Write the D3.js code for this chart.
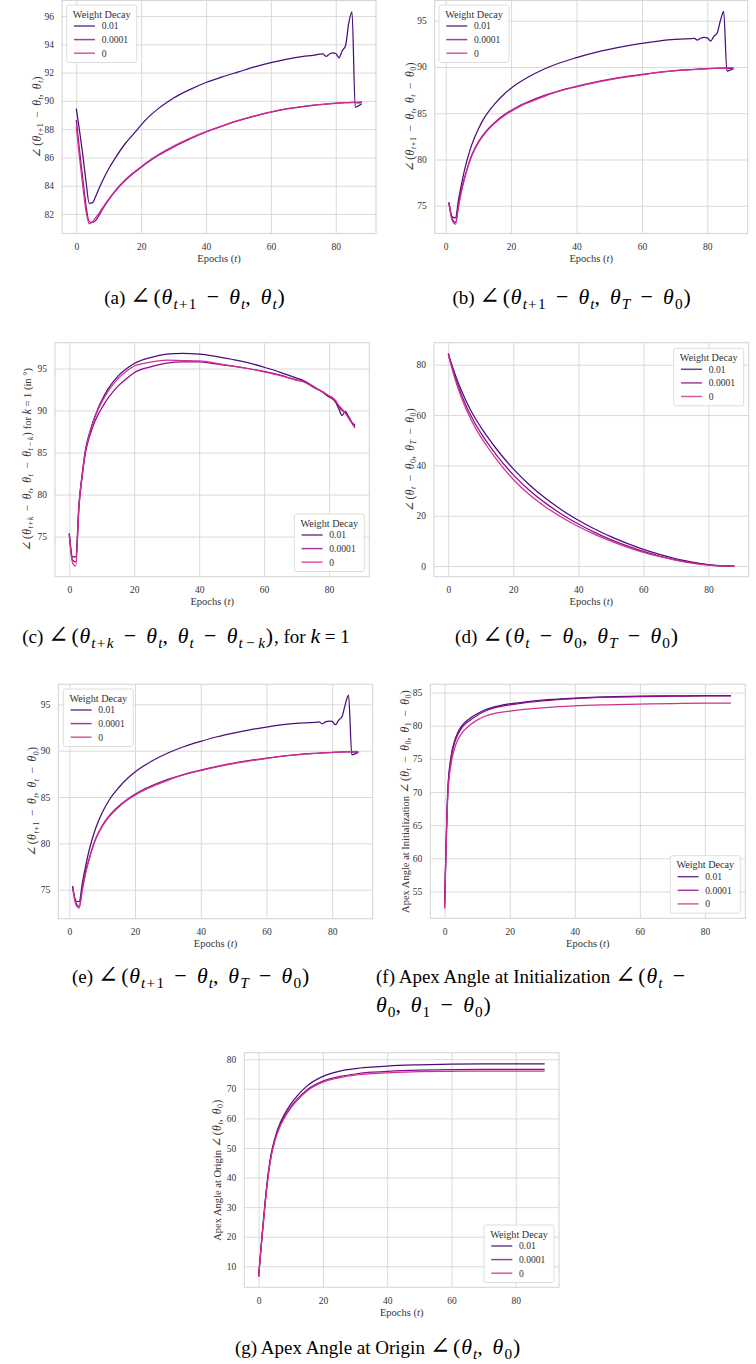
<!DOCTYPE html>
<html><head><meta charset="utf-8">
<script src="https://cdn.jsdelivr.net/npm/d3@7"></script>
<style>body{margin:0;background:#fff}text{white-space:pre}</style>
</head><body>
<script>
// ---------- DATA ----------
const seriesNames = ['0.01', '0.0001', '0'];
const xTickValues = [0, 20, 40, 60, 80];

const epochsA = [0,1,2,3,4,5,6,7,8,10,12,15,18,20,22,25,28,30,35,40,45,50,55,60,65,70,73,75,76,77,78,79,80,81,82,83,84,85,86,87,88];
const a_wd001 = [89.45,87.9,86.2,84.3,82.75,82.8,83.25,83.8,84.3,85.2,85.95,86.95,87.75,88.3,88.8,89.4,89.9,90.2,90.8,91.3,91.7,92.05,92.4,92.7,92.95,93.15,93.22,93.3,93.32,93.15,93.3,93.4,93.35,93.05,93.55,93.9,95.5,96.3,89.55,89.65,89.8];
const a_wd00001 = [88.65,86.5,84.5,82.6,81.45,81.4,81.55,81.9,82.3,83.0,83.6,84.35,84.95,85.3,85.65,86.1,86.5,86.75,87.3,87.8,88.22,88.6,88.92,89.2,89.43,89.6,89.68,89.73,89.75,89.77,89.79,89.81,89.83,89.85,89.86,89.87,89.88,89.9,89.88,89.86,89.9];
const a_wd0 = [88.2,86.0,84.0,82.2,81.3,81.45,81.75,82.05,82.4,83.05,83.65,84.4,85.0,85.35,85.7,86.15,86.55,86.8,87.35,87.82,88.24,88.62,88.94,89.22,89.45,89.62,89.7,89.74,89.76,89.78,89.8,89.82,89.84,89.85,89.86,89.87,89.88,89.87,89.9,89.92,89.95];
const a_yTicks = [82,84,86,88,90,92,94,96];

const epochsB = [1,2,3,4,5,6,7,8,10,12,15,18,20,22,25,30,35,40,45,50,55,60,65,70,73,75,76,77,78,79,80,81,82,83,84,85,86,87,88];
const b_wd001 = [75.4,73.8,73.7,75.8,77.6,79.2,80.5,81.6,83.3,84.6,86.0,87.1,87.7,88.2,88.85,89.75,90.45,91.0,91.5,91.9,92.25,92.55,92.8,92.98,93.02,93.05,93.1,92.9,93.1,93.2,93.15,92.8,93.3,93.65,95.0,96.0,89.55,89.65,89.8];
const b_wd00001 = [75.3,73.6,73.2,75.3,77.0,78.3,79.5,80.5,81.9,82.9,84.0,84.85,85.3,85.7,86.2,86.9,87.45,87.9,88.3,88.65,88.95,89.2,89.42,89.6,89.68,89.72,89.74,89.76,89.78,89.8,89.82,89.84,89.85,89.86,89.87,89.88,89.86,89.84,89.88];
const b_wd0 = [75.2,73.4,73.0,75.0,76.8,78.2,79.4,80.4,81.8,82.8,83.9,84.75,85.2,85.6,86.1,86.8,87.4,87.85,88.25,88.6,88.9,89.15,89.4,89.58,89.66,89.7,89.72,89.74,89.76,89.78,89.8,89.82,89.84,89.85,89.86,89.88,89.9,89.92,89.9];
const b_yTicks = [75,80,85,90,95];

const epochsC = [0,1,2,3,4,5,6,7,8,9,10,12,15,18,20,25,30,35,40,45,50,55,60,65,70,72,75,78,80,81,82,83,84,85,86,87,88];
const c_wd001 = [75.4,72.6,72.6,79.0,82.5,85.4,87.0,88.3,89.4,90.4,91.2,92.6,94.1,95.1,95.6,96.3,96.7,96.8,96.7,96.45,96.1,95.7,95.15,94.55,93.85,93.6,92.9,92.2,91.6,91.4,91.0,90.2,89.4,89.9,89.3,88.6,88.3];
const c_wd00001 = [75.3,72.2,72.0,78.6,82.2,85.0,86.6,87.8,88.8,89.6,90.3,91.5,92.9,93.9,94.5,95.2,95.65,95.8,95.8,95.55,95.3,95.0,94.65,94.2,93.65,93.5,92.8,92.2,91.7,91.5,91.1,90.5,90.0,89.8,89.2,88.6,88.1];
const c_wd0 = [75.2,71.9,71.5,78.8,82.4,85.2,86.9,88.2,89.3,90.2,91.0,92.3,93.8,94.8,95.3,95.75,96.0,95.95,95.9,95.65,95.3,95.0,94.6,94.15,93.6,93.45,92.85,92.25,91.75,91.55,91.2,90.6,90.2,89.7,89.1,88.5,87.9];
const c_yTicks = [75,80,85,90,95];

const epochsD = [0,1,2,3,4,5,6,8,10,12,15,20,25,30,35,40,45,50,55,60,65,70,75,80,84,88];
const d_wd001 = [84.5,80.3,76.5,73.0,69.8,66.9,64.2,59.3,55.2,51.4,46.2,38.6,32.2,26.8,22.2,18.2,14.7,11.7,9.0,6.6,4.6,2.9,1.6,0.6,0.15,0.0];
const d_wd00001 = [84.3,79.6,75.4,71.6,68.2,65.1,62.3,57.2,52.9,49.0,43.8,36.2,30.0,24.9,20.5,16.7,13.4,10.5,8.0,5.8,4.0,2.5,1.3,0.5,0.1,0.0];
const d_wd0 = [84.0,79.0,74.6,70.6,67.0,63.8,60.9,55.7,51.3,47.4,42.1,34.4,28.3,23.4,19.3,15.7,12.6,9.9,7.5,5.4,3.7,2.3,1.2,0.4,0.1,0.0];
const d_yTicks = [0,20,40,60,80];

const epochsE = [1,2,3,4,5,6,7,8,10,12,15,18,20,22,25,30,35,40,45,50,55,60,65,70,73,75,76,77,78,79,80,81,82,83,84,85,86,87,88];
const e_wd001 = [75.4,73.8,73.7,75.8,77.6,79.2,80.5,81.6,83.3,84.6,86.0,87.1,87.7,88.2,88.85,89.75,90.45,91.0,91.5,91.9,92.25,92.55,92.8,92.98,93.02,93.05,93.1,92.9,93.1,93.2,93.15,92.8,93.3,93.65,95.0,96.0,89.55,89.65,89.8];
const e_wd00001 = [75.3,73.6,73.2,75.3,77.0,78.3,79.5,80.5,81.9,82.9,84.0,84.85,85.3,85.7,86.2,86.9,87.45,87.9,88.3,88.65,88.95,89.2,89.42,89.6,89.68,89.72,89.74,89.76,89.78,89.8,89.82,89.84,89.85,89.86,89.87,89.88,89.86,89.84,89.88];
const e_wd0 = [75.2,73.4,73.0,75.0,76.8,78.2,79.4,80.4,81.8,82.8,83.9,84.75,85.2,85.6,86.1,86.8,87.4,87.85,88.25,88.6,88.9,89.15,89.4,89.58,89.66,89.7,89.72,89.74,89.76,89.78,89.8,89.82,89.84,89.85,89.86,89.88,89.9,89.92,89.9];
const e_yTicks = [75,80,85,90,95];

const epochsF = [0,1,2,3,4,5,6,8,10,12,15,20,25,30,40,50,60,70,80,88];
const f_wd001 = [52.6,70.5,75.4,77.6,78.9,79.8,80.4,81.2,81.8,82.3,82.8,83.3,83.6,83.85,84.15,84.35,84.45,84.5,84.55,84.55];
const f_wd00001 = [53.2,70.2,75.1,77.3,78.6,79.5,80.1,80.9,81.55,82.1,82.65,83.15,83.5,83.75,84.1,84.3,84.4,84.45,84.5,84.5];
const f_wd0 = [52.4,69.5,74.3,76.5,77.8,78.7,79.3,80.2,80.85,81.35,81.8,82.2,82.5,82.7,83.0,83.15,83.25,83.35,83.4,83.4];
const f_yTicks = [55,60,65,70,75,80,85];

const epochsG = [0,1,2,3,4,5,6,8,10,12,15,20,25,30,35,40,50,60,70,80,89];
const g_wd001 = [6.5,19.5,31.5,41.5,48.5,53.0,56.5,61.3,64.8,67.6,70.9,74.2,75.9,76.8,77.3,77.7,78.1,78.3,78.4,78.4,78.45];
const g_wd00001 = [6.5,19.3,31.2,41.0,48.0,52.5,55.9,60.5,63.9,66.5,69.6,72.6,74.1,75.0,75.6,75.9,76.3,76.5,76.6,76.6,76.6];
const g_wd0 = [6.4,19.0,30.8,40.6,47.6,52.1,55.5,60.1,63.5,66.1,69.2,72.2,73.7,74.6,75.1,75.4,75.8,75.9,76.0,76.0,76.0];
const g_yTicks = [10,20,30,40,50,60,70,80];

// ---------- STYLE / LAYOUT ----------
const colors = ['#4a0e77', '#8e0a8f', '#d2308f'];
const gridColor = '#d6d6d6';
const textColor = '#333';
const tickFont = 'Liberation Serif, DejaVu Serif, serif';
const capFont = 'Liberation Serif, Times New Roman, serif';
// extra space (in em of the math font) before / after math symbols, LaTeX-like
const mathPads = {'−': [0.22, 0.22], '+': [0.08, 0.08], ',': [0, 0.2], '∠': [0, 0.08], '(': [0.04, 0.04], ')': [0.04, 0.04], '=': [0.15, 0.15], 'θ': [0, 0.05]};

const svg = d3.select('body').append('svg').attr('width', 756).attr('height', 1364)
  .style('background', '#fff');

function rich(sel, str, fs, mScale) {
  const segs = [];
  str.split('$').forEach((p, i) => {
    if (i % 2 === 0) { if (p) segs.push({t: p, it: false, sub: false, m: false}); return; }
    let j = 0;
    while (j < p.length) {
      const c = p[j];
      if (c === '_') {
        let grp;
        if (p[j + 1] === '{') { const k = p.indexOf('}', j); grp = p.slice(j + 2, k); j = k + 1; }
        else { grp = p[j + 1]; j += 2; }
        for (const ch of grp) segs.push({t: ch, it: /[a-zA-Z]/.test(ch), sub: true, m: true});
      } else { segs.push({t: c, it: /[a-zA-Zθ]/.test(c), sub: false, m: true}); j++; }
    }
  });
  const merged = [];
  segs.forEach(s => {
    const l = merged[merged.length - 1];
    const op = s.m && mathPads[s.t];
    if (!op && l && !l.op && l.it === s.it && l.sub === s.sub && l.m === s.m) l.t += s.t;
    else merged.push({...s, op: !!op});
  });
  let cur = 0;
  merged.forEach(m => {
    const base = m.m ? fs * mScale : fs;
    let size = m.sub ? base * 0.7 : base;
    if (m.t === '∠') size *= 1.12;
    const target = m.sub ? 0.25 * base : 0;
    const ts = sel.append('tspan').attr('dy', target - cur).attr('font-size', size)
      .attr('font-style', m.it ? 'italic' : 'normal').text(m.t);
    if (m.t === '∠') ts.attr('font-family', 'DejaVu Serif, DejaVu Sans, serif');
    if (m.op) {
      const [pre, post] = mathPads[m.t];
      if (pre) ts.attr('dx', (pre * size).toFixed(2));
      if (post) ts.attr('letter-spacing', (post * size).toFixed(2));
    }
    cur = target;
  });
}

const panels = [
  {box: [62, 0.5, 376, 233.5], xd: [-4.4, 92.4], yd: [80.62, 97.1], yt: a_yTicks,
   ep: epochsA, s: [a_wd001, a_wd00001, a_wd0], yl: '$∠(θ_{t+1} − θ_t, θ_t)$', ylx: 37, leg: [66.7, 5]},
  {box: [434.7, 0.5, 747.7, 233.5], xd: [-3.35, 92.35], yd: [72.0, 97.18], yt: b_yTicks,
   ep: epochsB, s: [b_wd001, b_wd00001, b_wd0], yl: '$∠(θ_{t+1} − θ_t, θ_t − θ_0)$', ylx: 410, leg: [439, 5]},
  {box: [55, 342.7, 369.3, 576.7], xd: [-4.4, 92.4], yd: [70.23, 98.07], yt: c_yTicks,
   ep: epochsC, s: [c_wd001, c_wd00001, c_wd0], yl: '$∠(θ_{t+k} − θ_t, θ_t − θ_{t−k})$ for $k$ = 1 (in °)', ylx: 27, leg: [294.3, 514]},
  {box: [434, 342.7, 748.7, 576.7], xd: [-4.4, 92.4], yd: [-4.23, 88.73], yt: d_yTicks,
   ep: epochsD, s: [d_wd001, d_wd00001, d_wd0], yl: '$∠(θ_t − θ_0, θ_T − θ_0)$', ylx: 410, leg: [673.7, 348.3]},
  {box: [58.3, 684.3, 372.7, 918.7], xd: [-3.35, 92.35], yd: [71.87, 97.16], yt: e_yTicks,
   ep: epochsE, s: [e_wd001, e_wd00001, e_wd0], yl: '$∠(θ_{t+1} − θ_t, θ_t − θ_0)$', ylx: 32.5, leg: [63.3, 689]},
  {box: [430.3, 684.3, 745.3, 918.3], xd: [-4.4, 92.4], yd: [50.95, 86.25], yt: f_yTicks,
   ep: epochsF, s: [f_wd001, f_wd00001, f_wd0], yl: 'Apex Angle at Initialization $∠(θ_t − θ_0, θ_1 − θ_0)$', ylx: 405, leg: [670.3, 855.7]},
  {box: [244.3, 1052.7, 559, 1287.3], xd: [-4.45, 93.45], yd: [2.9, 82.2], yt: g_yTicks,
   ep: epochsG, s: [g_wd001, g_wd00001, g_wd0], yl: 'Apex Angle at Origin $∠(θ_t, θ_0)$', ylx: 217, leg: [484, 1225]}
];

panels.forEach(p => {
  const [L, T, R, B] = p.box;
  const g = svg.append('g');
  const x = d3.scaleLinear().domain(p.xd).range([L, R]);
  const y = d3.scaleLinear().domain(p.yd).range([B, T]);

  const ax = g.append('g').attr('transform', `translate(0,${B})`)
    .call(d3.axisBottom(x).tickValues(xTickValues).tickSize(-(B - T)).tickPadding(9.5).tickFormat(d3.format('d')));
  const ay = g.append('g').attr('transform', `translate(${L},0)`)
    .call(d3.axisLeft(y).tickValues(p.yt).tickSize(-(R - L)).tickPadding(8).tickFormat(d3.format('d')));
  [ax, ay].forEach(a => {
    a.select('.domain').remove();
    a.selectAll('.tick line').attr('stroke', gridColor).attr('stroke-width', 0.9);
    a.selectAll('.tick text').attr('fill', textColor).attr('font-family', tickFont).attr('font-size', 9.5);
  });
  g.append('rect').attr('x', L).attr('y', T).attr('width', R - L).attr('height', B - T)
    .attr('fill', 'none').attr('stroke', gridColor).attr('stroke-width', 1.1);

  const line = d3.line().curve(d3.curveMonotoneX);
  p.s.forEach((vals, i) => {
    g.append('path').attr('d', line(p.ep.map((e, k) => [x(e), y(vals[k])])))
      .attr('fill', 'none').attr('stroke', colors[i]).attr('stroke-width', 1.25)
      .attr('stroke-linejoin', 'round');
  });

  const xl = g.append('text').attr('x', (L + R) / 2).attr('y', B + 28.5).attr('text-anchor', 'middle')
    .attr('fill', textColor).attr('font-family', tickFont);
  rich(xl, 'Epochs ($t$)', 10.5, 1.0);

  const cy = (T + B) / 2;
  const yl = g.append('text').attr('transform', `translate(${p.ylx + 3.5},${cy}) rotate(-90)`)
    .attr('text-anchor', 'middle').attr('fill', textColor).attr('font-family', tickFont);
  rich(yl, p.yl, 10.5, 1.1);

  // legend
  const [bx, by] = p.leg;
  const lg = g.append('g');
  lg.append('rect').attr('x', bx).attr('y', by).attr('width', 70).attr('height', 57.5).attr('rx', 2)
    .attr('fill', '#fff').attr('fill-opacity', 0.85).attr('stroke', '#d9d9d9').attr('stroke-width', 0.9);
  lg.append('text').attr('x', bx + 35).attr('y', by + 12.5).attr('text-anchor', 'middle')
    .attr('font-family', tickFont).attr('font-size', 10.2).attr('fill', textColor).text('Weight Decay');
  seriesNames.forEach((nm, i) => {
    const cyy = by + 21 + i * 13.6;
    lg.append('line').attr('x1', bx + 7.3).attr('x2', bx + 28.3).attr('y1', cyy).attr('y2', cyy)
      .attr('stroke', colors[i]).attr('stroke-opacity', 0.8).attr('stroke-width', 1.5);
    lg.append('text').attr('x', bx + 35).attr('y', cyy + 3.3).attr('font-family', tickFont)
      .attr('font-size', 9.6).attr('fill', textColor).text(nm);
  });
});

// captions
const captions = [
  {t: '(a) $∠(θ_{t+1} − θ_t, θ_t)$', x: 195, y: 304, a: 'middle'},
  {t: '(b) $∠(θ_{t+1} − θ_t, θ_T − θ_0)$', x: 572, y: 304, a: 'middle'},
  {t: '(c) $∠(θ_{t+k} − θ_t, θ_t − θ_{t−k})$, for $k$ = 1', x: 186, y: 643, a: 'middle'},
  {t: '(d) $∠(θ_t − θ_0, θ_T − θ_0)$', x: 567, y: 643, a: 'middle'},
  {t: '(e) $∠(θ_{t+1} − θ_t, θ_T − θ_0)$', x: 191, y: 983, a: 'middle'},
  {t: '(f) Apex Angle at Initialization $∠(θ_t −$', x: 376, y: 983, a: 'start'},
  {t: '$θ_0, θ_1 − θ_0)$', x: 376, y: 1012, a: 'start'},
  {t: '(g) Apex Angle at Origin $∠(θ_t, θ_0)$', x: 378, y: 1354, a: 'middle'}
];
captions.forEach(c => {
  const t = svg.append('text').attr('x', c.x).attr('y', c.y).attr('text-anchor', c.a)
    .attr('font-family', capFont).attr('fill', '#000');
  rich(t, c.t, 19, 1.15);
});
</script>
</body></html>
